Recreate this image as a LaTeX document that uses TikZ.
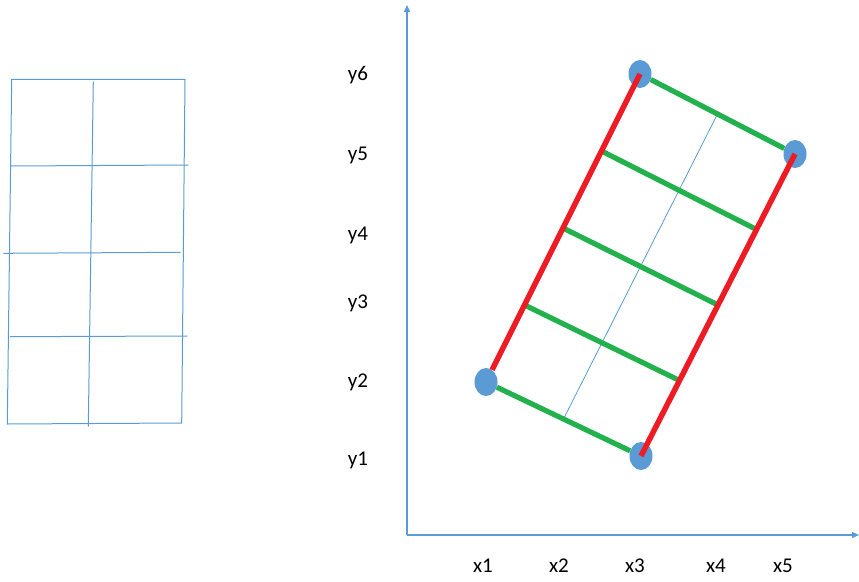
\documentclass[tikz,border=0pt]{standalone}
\usepackage{fontspec}
\setmainfont{Carlito}
\usetikzlibrary{arrows.meta,calc,shapes.geometric}
\definecolor{axisblue}{RGB}{91,155,213}
\definecolor{dotblue}{RGB}{91,155,213}
\definecolor{rungreen}{RGB}{34,177,76}
\definecolor{railred}{RGB}{237,28,36}
\begin{document}
\begin{tikzpicture}[x=1pt, y=-1pt,
  every node/.style={font=\fontsize{21}{24}\selectfont},
  gridline/.style={draw=axisblue, line width=1pt},
  axis/.style={draw=axisblue, line width=1.3pt, -{Triangle[length=7pt,width=6pt]}},
  dot/.style={ellipse, fill=dotblue, minimum width=23pt, minimum height=28pt, inner sep=0pt},
  rail/.style={draw=railred, line width=5.5pt},
  rung/.style={draw=rungreen, line width=5.2pt},
  midline/.style={draw=axisblue, line width=0.8pt}]

\useasboundingbox (0,0) rectangle (859,581);

%% --- Left grid ---
\draw[gridline] (11.7,79.3) -- (185,79.3) -- (181.7,423) -- (7.3,424) -- cycle;
\draw[gridline] (93.3,81.7) -- (88.3,426.7);
\draw[gridline] (10.7,166) -- (188.3,165);
\draw[gridline] (3.3,253.3) -- (180.7,252.3);
\draw[gridline] (10,336.7) -- (187.3,336);

%% --- Axes ---
\coordinate (O)    at (407,535);
\coordinate (ytop) at (407,5);
\coordinate (xend) at (859,535);
\draw[axis] (O) -- (ytop);
\draw[axis] (O) -- (xend);

%% --- Axis labels ---
\foreach \i/\y in {1/460,2/382,3/303,4/235,5/155,6/75}
  \node (ylab\i) at (358,\y) {y\i};
\foreach \i/\x in {1/483,2/559,3/635,4/716,5/783}
  \node (xlab\i) at (\x,566) {x\i};

%% --- Corner dots ---
\node[dot] (left)   at (486,382) {};
\node[dot] (top)    at (640,74)  {};
\node[dot] (right)  at (795,154) {};
\node[dot] (bottom) at (641,456) {};

%% --- Points on the rails ---
\foreach \k/\p in {1/0.25,2/0.5,3/0.75} {
  \coordinate (lr\k) at ($(left)!\p!(top)$);
  \coordinate (rr\k) at ($(bottom)!\p!(right)$);
}
\coordinate (midlow) at ($(left)!0.5!(bottom)$);
\coordinate (midtop) at ($(top)!0.5!(right)$);

%% --- Centre line, rungs, rails ---
\draw[midline] (midlow) -- (midtop);
\draw[rung] (left) -- (bottom);
\draw[rung] (top) -- (right);
\foreach \k in {1,2,3}
  \draw[rung] (lr\k) -- (rr\k);
\draw[rail] (left) -- (top.center);
\draw[rail] (bottom.center) -- (right.center);
\end{tikzpicture}
\end{document}
